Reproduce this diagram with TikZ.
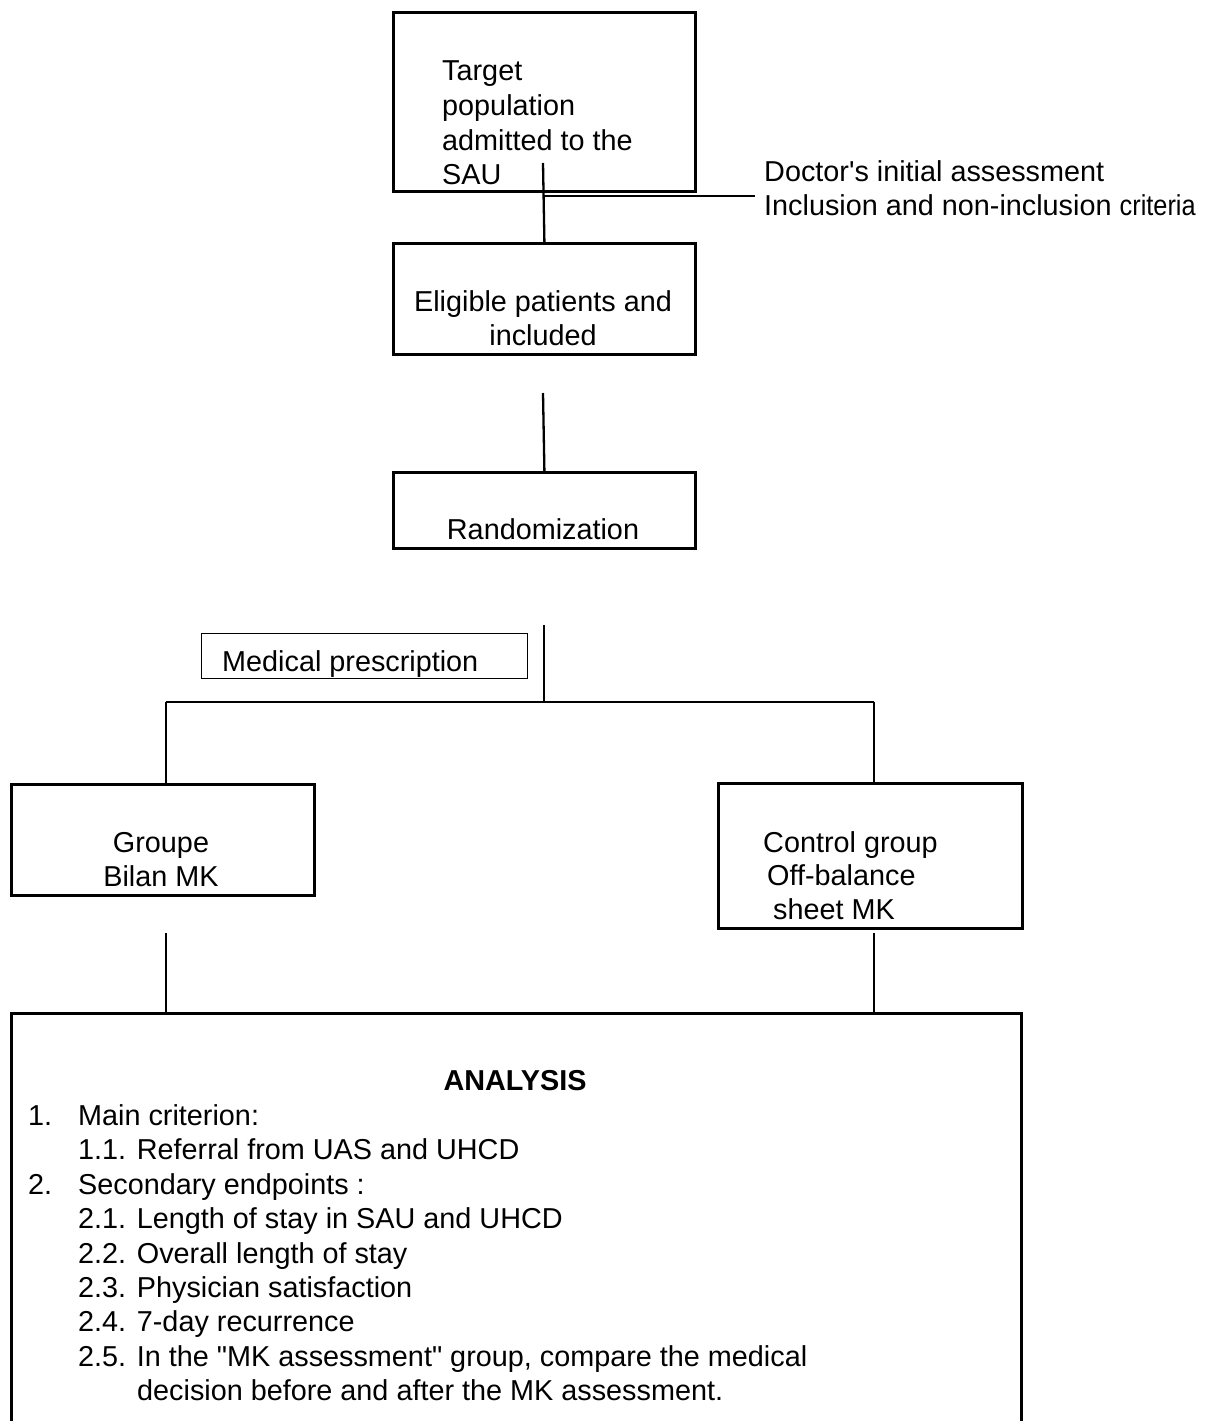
\documentclass[tikz,border=0pt]{standalone}
\usepackage{graphicx}
\usepackage{fontspec}
\setmainfont{Liberation Sans}
\begin{document}
\begin{tikzpicture}[x=1pt,y=-1pt,
  box/.style={draw, line width=2.8pt, inner sep=0pt, anchor=north west},
  thinbox/.style={draw, line width=1.4pt, inner sep=0pt, anchor=north west},
  txt/.style={inner sep=0pt, font=\fontsize{28.8}{34.5}\selectfont},
  conn/.style={line width=2.3pt}]
\clip (0,0) rectangle (1210,1421);
\fill[white] (0,0) rectangle (1210,1421);

% boxes
\node[box, minimum width=302pt, minimum height=179pt] (b1) at (392,11) {};
\node[box, minimum width=302pt, minimum height=111pt] (b2) at (392,242) {};
\node[box, minimum width=302pt, minimum height=76pt] (b3) at (392,471) {};
\node[thinbox, minimum width=326pt, minimum height=45pt] (pr) at (201,633) {};
\node[box, minimum width=303pt, minimum height=111pt] (bL) at (10,783) {};
\node[box, minimum width=304pt, minimum height=145pt] (bR) at (717,782) {};
\node[box, minimum width=1010pt, minimum height=500pt] (an) at (10,1012) {};

% texts
\node[txt, anchor=base west] (t1a) at (442,81) {Target};
\node[txt, anchor=base west] (t1b) at (442,115) {population};
\node[txt, anchor=base west] (t1c) at (442,150) {admitted to the};
\node[txt, anchor=base west] (t1d) at (442,184) {SAU};

\node[txt, anchor=base west] (da) at (764,181) {Doctor\textquotesingle s initial assessment};
\node[txt, anchor=base west] (db) at (764,215) {Inclusion and non-inclusion \scalebox{0.88}[1]{criteria}};

\node[txt, anchor=base] (t2a) at (543,311) {Eligible patients and};
\node[txt, anchor=base] (t2b) at (543,345) {included};

\node[txt, anchor=base] (t3) at (543,539) {Randomization};

\node[txt, anchor=base west] (tp) at (222,671) {Medical prescription};

\node[txt, anchor=base] (tLa) at (161,852) {Groupe};
\node[txt, anchor=base] (tLb) at (161,886) {Bilan MK};

\node[txt, anchor=base west] (tRa) at (763,852) {Control group};
\node[txt, anchor=base west] (tRb) at (767,885) {Off-balance};
\node[txt, anchor=base west] (tRc) at (773,919) {sheet MK};

\node[txt, anchor=base, font=\fontsize{28.8}{34.5}\selectfont\bfseries] (ta) at (515,1090) {ANALYSIS};
\node[txt, anchor=base west] (n1) at (28,1125) {1.};
\node[txt, anchor=base west] (l1) at (78,1125) {Main criterion:};
\node[txt, anchor=base west] (l11) at (78,1159) {1.1. Referral from UAS and UHCD};
\node[txt, anchor=base west] (n2) at (28,1194) {2.};
\node[txt, anchor=base west] (l2) at (78,1194) {Secondary endpoints :};
\node[txt, anchor=base west] (l21) at (78,1228) {2.1. Length of stay in SAU and UHCD};
\node[txt, anchor=base west] (l22) at (78,1263) {2.2. Overall length of stay};
\node[txt, anchor=base west] (l23) at (78,1297) {2.3. Physician satisfaction};
\node[txt, anchor=base west] (l24) at (78,1331) {2.4. 7-day recurrence};
\node[txt, anchor=base west] (l25) at (78,1366) {2.5. In the \textquotedbl MK assessment\textquotedbl{} group, compare the medical};
\node[txt, anchor=base west] (l25b) at (137,1400) {decision before and after the MK assessment.};

% connectors
\coordinate (c1) at (543,163);
\draw[conn] (c1) -- (b2.north);
\coordinate (c1j) at (543,196);
\coordinate (c1e) at (755,196);
\draw[conn] (c1j) -- (c1e);
\coordinate (c2) at (543,393);
\draw[conn] (c2) -- (b3.north);
\coordinate (c3) at (544,625);
\coordinate (sp) at (544,702);
\draw[conn] (c3) -- (sp);
\coordinate (spL) at (166,702);
\coordinate (spR) at (874,702);
\draw[conn] (spL) -- (spR);
\draw[conn] (spL) -- (spL |- bL.north);
\draw[conn] (spR) -- (spR |- bR.north);
\coordinate (dL) at (166,933);
\draw[conn] (dL) -- (dL |- an.north);
\coordinate (dR) at (874,933);
\draw[conn] (dR) -- (dR |- an.north);
\end{tikzpicture}
\end{document}
